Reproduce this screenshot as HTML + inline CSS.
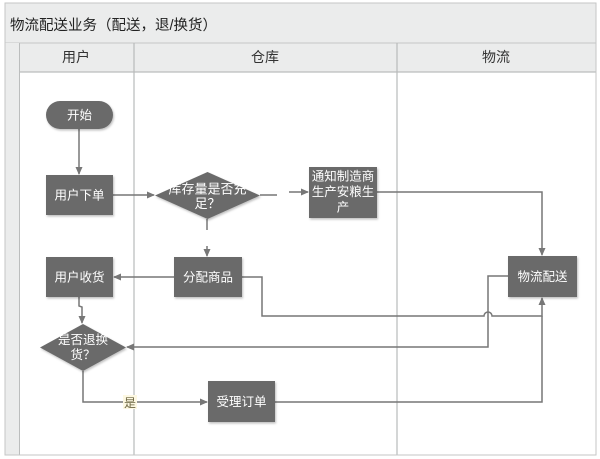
<!DOCTYPE html>
<html><head><meta charset="utf-8"><style>
html,body{margin:0;padding:0;background:#fff;}
svg{display:block;}
text{font-family:"Liberation Sans","Noto Sans CJK SC",sans-serif;}
</style></head><body>
<svg width="600" height="459" viewBox="0 0 600 459" xmlns="http://www.w3.org/2000/svg">
<defs>
<marker id="ar" markerWidth="8" markerHeight="8" refX="7" refY="4" orient="auto" markerUnits="userSpaceOnUse">
<path d="M0,0.5 L8,4 L0,7.5 Z" fill="#777"/>
</marker>
<filter id="sh" x="-10%" y="-10%" width="130%" height="140%">
<feDropShadow dx="1" dy="1.5" stdDeviation="1" flood-color="#000" flood-opacity="0.25"/>
</filter>
</defs>
<!-- frame -->
<rect x="5" y="3" width="591" height="452" fill="#fff" stroke="#c4c6c6" stroke-width="1"/>
<rect x="5.5" y="3.5" width="590" height="39.5" fill="#ebecec"/>
<line x1="5" y1="43" x2="596" y2="43" stroke="#c4c6c6"/>
<rect x="5.5" y="43" width="13.5" height="412" fill="#ebecec"/>
<line x1="19.5" y1="43" x2="19.5" y2="455" stroke="#bbbdbd"/>
<rect x="20" y="43.5" width="576" height="28.5" fill="#ebecec"/>
<line x1="19.5" y1="72" x2="596" y2="72" stroke="#bbbdbd" stroke-width="1.2"/>
<line x1="134" y1="43" x2="134" y2="455" stroke="#b8baba" stroke-width="1.2"/>
<line x1="397" y1="43" x2="397" y2="455" stroke="#b8baba" stroke-width="1.2"/>
<line x1="596" y1="3" x2="596" y2="455" stroke="#c4c6c6"/>
<line x1="5" y1="455" x2="596" y2="455" stroke="#c4c6c6"/>

<text x="10" y="30" font-size="14.5" fill="#222">物流配送业务（配送，退/换货）</text>
<text x="76" y="62" font-size="14" fill="#333" text-anchor="middle">用户</text>
<text x="265" y="62" font-size="14" fill="#333" text-anchor="middle">仓库</text>
<text x="496" y="62" font-size="14" fill="#333" text-anchor="middle">物流</text>

<!-- connectors -->
<g stroke="#777" stroke-width="1.5" fill="none">
<line x1="79" y1="129" x2="79" y2="174" marker-end="url(#ar)"/>
<line x1="113" y1="195" x2="154" y2="195" marker-end="url(#ar)"/>
<line x1="260" y1="195" x2="277" y2="195"/>
<line x1="289" y1="192" x2="308" y2="192" marker-end="url(#ar)"/>
<polyline points="377,192 542,192 542,255" marker-end="url(#ar)"/>
<line x1="207" y1="219" x2="207" y2="230"/>
<line x1="207" y1="246" x2="207" y2="256" marker-end="url(#ar)"/>
<line x1="174" y1="277" x2="114" y2="277" marker-end="url(#ar)"/>
<path d="M242,277 L262,277 L262,316 L484,316 A4,4 0 0 1 492,316 L542,316 L542,298" marker-end="url(#ar)"/>
<polyline points="508,276 488,276 488,347 127,347" marker-end="url(#ar)"/>
<polyline points="79,297 79,306 82,307 82,323" marker-end="url(#ar)"/>
<polyline points="83,371 83,402 207,402" marker-end="url(#ar)"/>
<polyline points="275,402 542,402 542,316"/>
</g>

<!-- shapes -->
<g fill="#6b6b6b" filter="url(#sh)">
<rect x="46" y="101" width="67" height="28" rx="14"/>
<rect x="46" y="175" width="67" height="40"/>
<polygon points="155,195.5 207.5,172 260,195.5 207.5,219"/>
<rect x="309" y="167" width="68" height="51"/>
<rect x="174" y="257" width="68" height="40"/>
<rect x="46" y="257" width="67" height="40"/>
<rect x="508" y="256" width="69" height="41"/>
<polygon points="40,347.5 83,324 126,347.5 83,371"/>
<rect x="208" y="381" width="67" height="41"/>
</g>

<g fill="#fff" font-size="12.5" text-anchor="middle">
<text x="79.5" y="119.5">开始</text>
<text x="79.5" y="199.5">用户下单</text>
<text x="207.5" y="193.5" font-size="13">库存量是否充</text>
<text x="207.5" y="208" font-size="13">足？</text>
<text x="343" y="180.5">通知制造商</text>
<text x="343" y="196">生产安粮生</text>
<text x="343" y="211.5">产</text>
<text x="208" y="281.5">分配商品</text>
<text x="79.5" y="281.5">用户收货</text>
<text x="542.5" y="281">物流配送</text>
<text x="83" y="344">是否退换</text>
<text x="83" y="359">货？</text>
<text x="241.5" y="406">受理订单</text>
</g>

<rect x="123" y="395" width="14" height="14" fill="#fdf8e2"/>
<text x="130" y="407" font-size="12" fill="#6a6440" text-anchor="middle">是</text>
</svg>
</body></html>
